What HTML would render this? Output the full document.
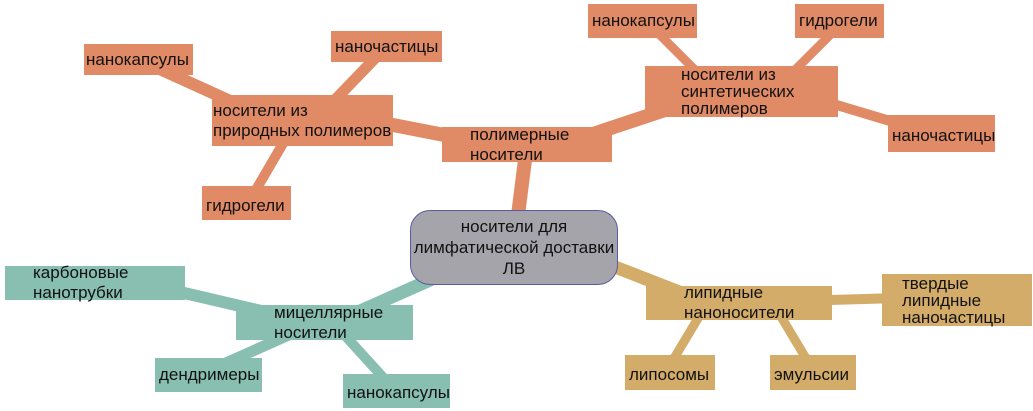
<!DOCTYPE html>
<html><head><meta charset="utf-8"><style>
body{margin:0;width:1033px;height:411px;background:#fff;position:relative;overflow:hidden;font-family:"Liberation Sans","DejaVu Sans",sans-serif;}
svg{position:absolute;left:0;top:0}
.n{position:absolute;box-sizing:border-box;font-size:17px;line-height:20px;color:#111;padding:0 4px;display:flex;align-items:center;white-space:nowrap;}
.o{background:#e08a66}.t{background:#88bfb0}.g{background:#d4ac6a}
.c{background:#a5a4aa;border:1px solid #5a5aa0;border-radius:20px;text-align:center;justify-content:center;padding:0;line-height:21px;}
</style></head><body>
<svg width="1033" height="411">
<g stroke-linecap="round" fill="none">
<g stroke="#e08a66">
<line x1="140" y1="60" x2="250" y2="110" stroke-width="12"/>
<line x1="385" y1="48" x2="330" y2="105" stroke-width="11"/>
<line x1="250" y1="200" x2="285" y2="140" stroke-width="10"/>
<line x1="393" y1="125" x2="470" y2="140" stroke-width="14"/>
<line x1="525" y1="160" x2="518" y2="215" stroke-width="14"/>
<line x1="590" y1="135" x2="680" y2="105" stroke-width="14"/>
<line x1="650" y1="25" x2="700" y2="75" stroke-width="9"/>
<line x1="840" y1="25" x2="790" y2="75" stroke-width="9"/>
<line x1="820" y1="100" x2="920" y2="130" stroke-width="10"/>
</g>
<g stroke="#88bfb0">
<line x1="150" y1="285" x2="300" y2="320" stroke-width="12"/>
<line x1="340" y1="320" x2="430" y2="280" stroke-width="13"/>
<line x1="210" y1="370" x2="300" y2="330" stroke-width="11"/>
<line x1="340" y1="330" x2="390" y2="385" stroke-width="10"/>
</g>
<g stroke="#d4ac6a">
<line x1="610" y1="265" x2="700" y2="300" stroke-width="13"/>
<line x1="830" y1="300" x2="900" y2="298" stroke-width="10"/>
<line x1="670" y1="365" x2="700" y2="315" stroke-width="9"/>
<line x1="810" y1="365" x2="780" y2="315" stroke-width="9"/>
</g>
</g>
</svg>
<div class="n o" style="left:84px;top:44px;width:109px;height:31px;padding-left:2px">нанокапсулы</div>
<div class="n o" style="left:331px;top:31px;width:111px;height:31px">наночастицы</div>
<div class="n o" style="left:212px;top:95px;width:181px;height:51px;padding-left:1px">носители из<br>природных полимеров</div>
<div class="n o" style="left:202px;top:186px;width:89px;height:34px;padding-top:6px">гидрогели</div>
<div class="n o" style="left:442px;top:127px;width:170px;height:35px;padding:0 0 0 28px">полимерные<br>носители</div>
<div class="n c" style="left:410px;top:210px;width:208px;height:75px">носители для<br>лимфатической доставки<br>ЛВ</div>
<div class="n o" style="left:588px;top:4px;width:109px;height:34px">нанокапсулы</div>
<div class="n o" style="left:795px;top:4px;width:89px;height:34px">гидрогели</div>
<div class="n o" style="left:645px;top:66px;width:193px;height:51px;padding:0 0 0 36px;line-height:17px">носители из<br>синтетических<br>полимеров</div>
<div class="n o" style="left:888px;top:115px;width:107px;height:37px;padding-top:4px">наночастицы</div>
<div class="n t" style="left:5px;top:266px;width:180px;height:34px;padding:0 0 0 28px">карбоновые<br>нанотрубки</div>
<div class="n t" style="left:236px;top:305px;width:177px;height:35px;padding:0 0 0 38px">мицеллярные<br>носители</div>
<div class="n t" style="left:155px;top:358px;width:107px;height:34px">дендримеры</div>
<div class="n t" style="left:343px;top:374px;width:107px;height:34px;padding-top:4px">нанокапсулы</div>
<div class="n g" style="left:646px;top:286px;width:186px;height:34px;padding:0 0 0 38px">липидные<br>наноносители</div>
<div class="n g" style="left:882px;top:274px;width:150px;height:52px;padding:0 0 0 20px;line-height:17px">твердые<br>липидные<br>наночастицы</div>
<div class="n g" style="left:625px;top:355px;width:90px;height:35px;padding-top:4px">липосомы</div>
<div class="n g" style="left:770px;top:355px;width:86px;height:35px;padding-top:4px">эмульсии</div>
</body></html>
